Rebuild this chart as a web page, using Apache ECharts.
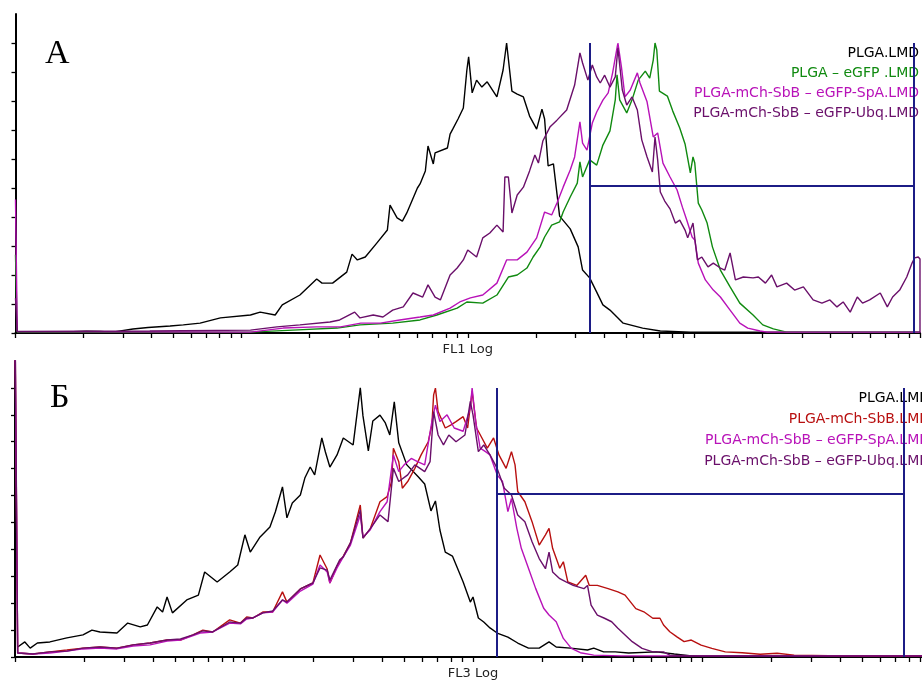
<!DOCTYPE html>
<html>
<head>
<meta charset="utf-8">
<script src="https://cdn.jsdelivr.net/npm/echarts@6/dist/echarts.min.js"></script>
<style>
    html, body { margin: 0; padding: 0; background: #fff; }
    #chart { width: 922px; height: 680px; }
</style>
</head>
<body>
<div id="chart"></div>
<script>
// histograms: [channel (0..1024 over 4 log decades), count]
// panel А (FL1)
const plgaA = [[0,0.3],[50,0.3],[80,0.6],[96,0.5],[110,0.3],[133,1.4],[150,1.9],[175,2.4],[190,2.8],[209,3.4],[232,5.2],[266,6.2],[277,7.2],[294,6.2],[302,9.7],[322,13.1],[341,18.6],[347,17.2],[359,17.2],[375,21],[381,27.2],[387,25.2],[396,26.2],[409,31],[421,35.5],[424,44.1],[432,39.7],[438,38.6],[443,41.4],[455,50],[458,51.4],[464,55.9],[467,64.5],[473,58.3],[475,62.1],[489,63.8],[492,68.6],[495,70.3],[501,73.8],[507,77.6],[511,90.7],[513,95.2],[517,82.8],[522,87.2],[528,84.8],[534,86.6],[545,81.4],[552,90.7],[556,100],[562,83.4],[568,82.4],[575,81.4],[582,74.8],[590,70.3],[596,77.2],[599,73.8],[603,57.6],[609,58.3],[616,40.3],[628,35.9],[637,29.7],[642,21.7],[650,19],[658,14.1],[665,9.7],[673,7.9],[688,3.4],[710,1.7],[730,0.7],[764,0.3],[1024,0.3]];
const egfpA = [[0,27],[1.5,27],[2,0.3],[266,0.3],[314,1],[364,1.7],[390,2.8],[427,3.4],[458,4.5],[477,6.2],[500,8.6],[511,10.7],[529,10.3],[545,13.1],[558,19.3],[568,20],[579,22.4],[586,26.2],[594,29.7],[599,33.1],[607,37.2],[616,38.3],[620,41.7],[628,46.9],[636,51.7],[639,59],[642,53.8],[650,59.7],[658,57.9],[665,64.8],[673,69.7],[679,80.4],[681,89],[684,80.4],[692,75.9],[698,80.4],[705,87.2],[713,90.3],[718,87.9],[722,94.1],[724,100],[726,97.6],[729,83.4],[738,81.7],[744,76.6],[752,70.7],[758,65.2],[764,55.2],[767,60.7],[769,58.6],[773,44.8],[777,42.4],[783,37.9],[789,29.7],[798,21.7],[809,15.9],[820,10.3],[835,6.2],[846,2.8],[858,1.4],[873,0.3],[1024,0.3]];
const spaA = [[0,46],[1.5,46],[2,0.5],[266,0.3],[303,1.7],[341,2.1],[368,2.1],[391,3.4],[413,3.4],[435,4.5],[458,5.5],[473,6.2],[492,8.6],[503,10.7],[515,12.1],[529,13.1],[545,17.2],[556,25.2],[568,25.2],[579,27.9],[590,32.8],[599,41.7],[607,40.7],[613,44.8],[620,50.3],[628,56.2],[633,60.7],[639,72.8],[642,65.5],[647,63.1],[653,72.4],[658,76.2],[665,80.3],[671,82.8],[676,89.7],[681,98.3],[682,100],[686,91.7],[690,81.4],[696,83.8],[704,89.7],[707,86.2],[715,79.7],[722,67.6],[727,69],[733,58.6],[741,53.8],[749,49.3],[755,43.4],[760,38.9],[766,33.1],[769,32.1],[773,24.1],[781,18.3],[790,14.8],[798,12.4],[809,7.9],[820,3.4],[829,1.7],[843,0.7],[851,0.3],[1024,0.3]];
const ubqA = [[0,12],[1.5,12],[2,0.5],[152,0.7],[266,1],[296,2.1],[322,2.8],[356,3.8],[367,4.5],[384,7.2],[390,5.2],[405,6.2],[416,5.5],[427,7.9],[439,9],[450,13.8],[461,12.4],[467,16.6],[475,12.4],[481,11.4],[492,20],[500,22.4],[507,25.2],[512,28.6],[522,26.2],[529,32.8],[537,34.5],[545,37.2],[552,34.8],[554,53.8],[558,53.8],[562,41.4],[568,47.6],[575,50.3],[582,55.9],[588,61.4],[592,58.6],[597,66.2],[605,71],[613,73.4],[624,76.9],[633,85.5],[639,96.6],[642,93.1],[648,87.2],[653,92.4],[658,88.3],[662,86.2],[667,88.9],[673,84.8],[679,88.3],[682,98.3],[687,83.8],[692,78.6],[698,81.4],[704,76.9],[709,66.6],[715,60.7],[721,55.5],[724,67.6],[727,59.7],[730,48.6],[735,45.5],[741,42.8],[747,37.9],[752,38.9],[758,35.5],[761,32.8],[767,37.9],[772,25.2],[777,26.2],[784,22.8],[790,24.1],[798,22.4],[803,21.7],[809,27.6],[815,18.3],[824,19.3],[835,19],[841,19.3],[849,17.2],[856,20],[862,15.9],[873,17.2],[882,14.8],[892,15.9],[903,11.4],[913,10.3],[922,11.4],[930,9],[937,10.7],[945,7.2],[953,12.4],[959,10.3],[967,11.4],[979,13.8],[987,9],[993,12.4],[1001,14.8],[1009,19.3],[1015,24.1],[1018,25.9],[1022,26.2],[1024,25.5],[1024,0]];

// panel Б (FL3)
const plgaB = [[3,3.7],[11,5.6],[17,3.3],[25,5.2],[39,5.6],[58,7.1],[76,8.2],[86,10],[95,9.3],[114,8.9],[126,12.6],[140,11.2],[148,11.9],[159,18.6],[165,16.7],[170,22.3],[176,16.4],[192,21.2],[205,23],[212,31.6],[226,27.9],[240,31.6],[249,34.2],[257,45.4],[263,39],[274,44.6],[285,48.3],[291,53.9],[299,63.2],[304,51.7],[310,57.2],[319,60.2],[324,66.5],[330,70.6],[335,67.7],[343,81.4],[347,76.2],[352,70.6],[360,75.1],[367,81.4],[378,78.8],[386,100],[389,89.6],[395,76.6],[400,87.7],[408,89.9],[414,87],[419,82.5],[424,94.8],[429,79.6],[438,71.4],[451,66.9],[458,64.3],[465,54.3],[470,58],[475,47.2],[481,39],[489,37.5],[501,27.9],[509,20.4],[512,22.3],[518,14.5],[524,13],[531,10.8],[539,8.9],[551,7.4],[562,5.2],[574,3.3],[586,3.3],[597,5.6],[605,3.7],[621,3.3],[640,2.6],[647,3.3],[658,1.9],[671,1.9],[686,1.5],[717,1.9],[737,1.1],[756,0.4],[1024,0.4]];
const sbbB = [[0,125],[2,125],[3,1.5],[20,1.1],[39,1.9],[58,2.6],[76,3.3],[95,3.7],[114,3.3],[132,4.5],[151,5.2],[170,6.3],[185,6.3],[199,8.2],[210,10],[221,9.3],[240,13.8],[252,12.6],[259,14.9],[266,14.5],[277,16.7],[288,16.7],[299,24.2],[304,20.4],[319,25.3],[333,27.5],[341,37.9],[349,32.7],[352,27.5],[360,33.8],[367,37.5],[375,42.4],[386,56.5],[389,44.2],[397,47.6],[408,57.7],[416,59.6],[421,65.2],[423,77.6],[429,72.6],[433,62.7],[439,65.2],[447,70.1],[454,75.1],[462,80],[466,86.2],[468,97.4],[470,99.9],[473,91.2],[481,85.1],[487,86.2],[493,87.5],[501,89.3],[506,85.1],[511,98.6],[516,85.1],[522,81.4],[528,77.6],[535,81.4],[541,75.1],[549,70.1],[555,76.3],[559,71.4],[562,61.5],[570,57.7],[578,50.3],[586,41.6],[593,45.4],[597,47.8],[601,40.4],[609,33],[613,35.4],[618,27.9],[628,26.6],[638,30.4],[642,26.6],[651,26.6],[663,25.4],[674,24.2],[682,23],[694,18],[703,16.8],[713,14.4],[721,14.4],[725,11.9],[732,9.4],[740,7.5],[748,5.7],[756,6.3],[767,4.4],[779,3.2],[794,1.9],[813,1.6],[833,1],[852,1.4],[871,0.7],[910,0.5],[949,0.4],[1024,0.4]];
const spaB = [[0,120],[2,120],[3,1.5],[20,1.1],[39,1.5],[58,2.2],[76,3],[95,3.3],[114,3],[132,4.1],[151,4.5],[170,5.9],[185,6.3],[207,8.9],[221,9.3],[240,12.6],[252,12.3],[259,14.1],[266,14.5],[277,16.4],[288,16.7],[299,21.2],[304,20],[319,24.5],[333,27.1],[341,34.2],[349,31.6],[352,27.5],[360,33.1],[367,37.2],[375,41.6],[386,52.8],[389,44.6],[397,47.2],[408,54],[416,57.7],[423,75.1],[429,68.9],[435,71.4],[443,73.8],[450,72.6],[458,71.4],[466,87.5],[470,93.6],[475,87.5],[483,90],[491,85.1],[501,83.9],[509,92.6],[511,99.9],[515,87.5],[520,77.6],[526,76.3],[531,75.1],[539,67.7],[545,65.2],[551,54],[555,58.9],[561,47.8],[566,40.4],[574,33],[582,25.5],[591,18.1],[597,15.6],[605,13.1],[613,6.9],[622,3.2],[632,1.6],[647,0.7],[678,0.4],[1024,0.4]];
const ubqB = [[0,130],[2,130],[3,1.5],[20,1.1],[39,1.9],[58,2.2],[76,3.3],[95,3.7],[114,3.3],[132,4.5],[151,5.2],[170,6.3],[185,6.7],[199,8.2],[210,9.7],[221,9.3],[240,13],[252,12.6],[259,14.5],[266,14.5],[277,16.4],[288,17.1],[299,21.2],[304,20.4],[319,25.3],[333,27.5],[341,33.1],[349,32.3],[352,28.6],[363,36.1],[367,37.2],[375,42.4],[386,54.6],[389,44.2],[397,47.6],[408,52.8],[417,50.3],[423,70.1],[429,65.2],[439,67.7],[447,71.4],[458,68.9],[464,72.6],[468,91.2],[473,82.5],[479,78.8],[485,82.5],[493,80],[503,82.5],[509,95],[512,90],[518,76.3],[524,78.8],[531,75.1],[539,70.1],[547,62.7],[555,60.2],[562,52.8],[570,50.3],[578,42.8],[586,36.6],[593,32.8],[597,39],[601,31.6],[609,29.1],[616,27.9],[624,26.6],[636,25.4],[640,26.6],[644,19.3],[651,15.6],[659,14.4],[667,13.1],[674,10.7],[682,8.2],[690,5.7],[701,3.2],[713,1.9],[725,1.9],[732,0.7],[766,0.4],[1024,0.4]];

// gates: [left channel, right channel], level (count)
const gateAx = [650, 1017];
const gateAy = 50.7;
const gateBx = [539, 993];
const gateBy = 60.5;

const legendA = ['PLGA.LMD', 'PLGA – eGFP .LMD', 'PLGA-mCh-SbB – eGFP-SpA.LMD', 'PLGA-mCh-SbB – eGFP-Ubq.LMD'];
const legendB = ['PLGA.LMD', 'PLGA-mCh-SbB.LMD', 'PLGA-mCh-SbB – eGFP-SpA.LMD', 'PLGA-mCh-SbB – eGFP-Ubq.LMD'];
const colorsA = ['#000000', '#108a10', '#b812b8', '#6a0f6a'];
const colorsB = ['#000000', '#b81010', '#b812b8', '#6a0f6a'];

// log ticks: 256 channels per decade
const chPerDecade = 256;
const xTicks = [];
for (let d = 0; d < 4; d++) {
    for (let k = 1; k < 10; k++) xTicks.push(d * chPerDecade + chPerDecade * Math.log10(k));
}
xTicks.push(4 * chPerDecade);
const yTicks = [0, 10, 20, 30, 40, 50, 60, 70, 80, 90, 100];

const chart = echarts.init(document.getElementById('chart'));

function xAxisOf(idx, name) {
    return {
        gridIndex: idx, type: 'value', min: 0, max: 1024,
        name: name, nameLocation: 'middle', nameGap: 10,
        nameTextStyle: { fontFamily: 'DejaVu Sans', fontSize: 13, color: '#222' },
        axisLine: { onZero: false, lineStyle: { color: '#000', width: 2 } },
        axisTick: { customValues: xTicks, length: 5, lineStyle: { color: '#000', width: 1.3 } },
        axisLabel: { show: false },
        splitLine: { show: false }
    };
}
function yAxisOf(idx) {
    return {
        gridIndex: idx, type: 'value', min: 0, max: 110,
        axisLine: { lineStyle: { color: '#000', width: 2 } },
        axisTick: { customValues: yTicks, length: 4, lineStyle: { color: '#000', width: 1.3 } },
        axisLabel: { show: false },
        splitLine: { show: false }
    };
}
function histo(idx, name, data, color) {
    return {
        name: name, type: 'line', xAxisIndex: idx, yAxisIndex: idx,
        data: data, showSymbol: false, symbol: 'none', silent: true, z: 2,
        lineStyle: { color: color, width: 1.4 }
    };
}
function gate(idx, gx, gy) {
    return {
        type: 'line', xAxisIndex: idx, yAxisIndex: idx, data: [], z: 4, silent: true,
        markLine: {
            symbol: 'none', silent: true, animation: false,
            label: { show: false },
            lineStyle: { color: '#1c1c86', width: 2, type: 'solid' },
            data: [
                [{ coord: [gx[0], 0] }, { coord: [gx[0], 100] }],
                [{ coord: [gx[1], 0] }, { coord: [gx[1], 100] }],
                [{ coord: [gx[0], gy] }, { coord: [gx[1], gy] }]
            ]
        }
    };
}
function legendTexts(lines, colors, right, top0, step) {
    return lines.map((t, i) => ({
        type: 'text', x: right, y: top0 + i * step, z: 1, silent: true,
        style: {
            text: t, fill: colors[i], textAlign: 'right', textVerticalAlign: 'middle',
            font: '14px "DejaVu Sans"'
        }
    }));
}

const option = {
    animation: false,
    backgroundColor: '#fff',
    grid: [
        { left: 15.5, width: 904.5, top: 14, bottom: 347, outerBoundsMode: 'none' },
        // panel Б is slightly wider and runs past the right edge
        { left: 15, width: 916, top: 361, bottom: 23, outerBoundsMode: 'none' }
    ],
    xAxis: [xAxisOf(0, 'FL1 Log'), xAxisOf(1, 'FL3 Log')],
    yAxis: [yAxisOf(0), yAxisOf(1)],
    graphic: [
        { type: 'text', x: 45, y: 54, z: 1, silent: true,
          style: { text: 'А', fill: '#000', font: '34px "Liberation Serif"', textVerticalAlign: 'middle' } },
        { type: 'text', x: 50, y: 398, z: 1, silent: true,
          style: { text: 'Б', fill: '#000', font: '34px "Liberation Serif"', textVerticalAlign: 'middle' } }
    ].concat(legendTexts(legendA, colorsA, 919, 53, 20))
     .concat(legendTexts(legendB, colorsB, 930, 398.5, 21)),
    series: [
        histo(0, legendA[0], plgaA, colorsA[0]),
        histo(0, legendA[1], egfpA, colorsA[1]),
        histo(0, legendA[2], spaA, colorsA[2]),
        histo(0, legendA[3], ubqA, colorsA[3]),
        gate(0, gateAx, gateAy),
        histo(1, legendB[0], plgaB, colorsB[0]),
        histo(1, legendB[1], sbbB, colorsB[1]),
        histo(1, legendB[2], spaB, colorsB[2]),
        histo(1, legendB[3], ubqB, colorsB[3]),
        gate(1, gateBx, gateBy)
    ]
};
chart.setOption(option);
</script>
</body>
</html>
